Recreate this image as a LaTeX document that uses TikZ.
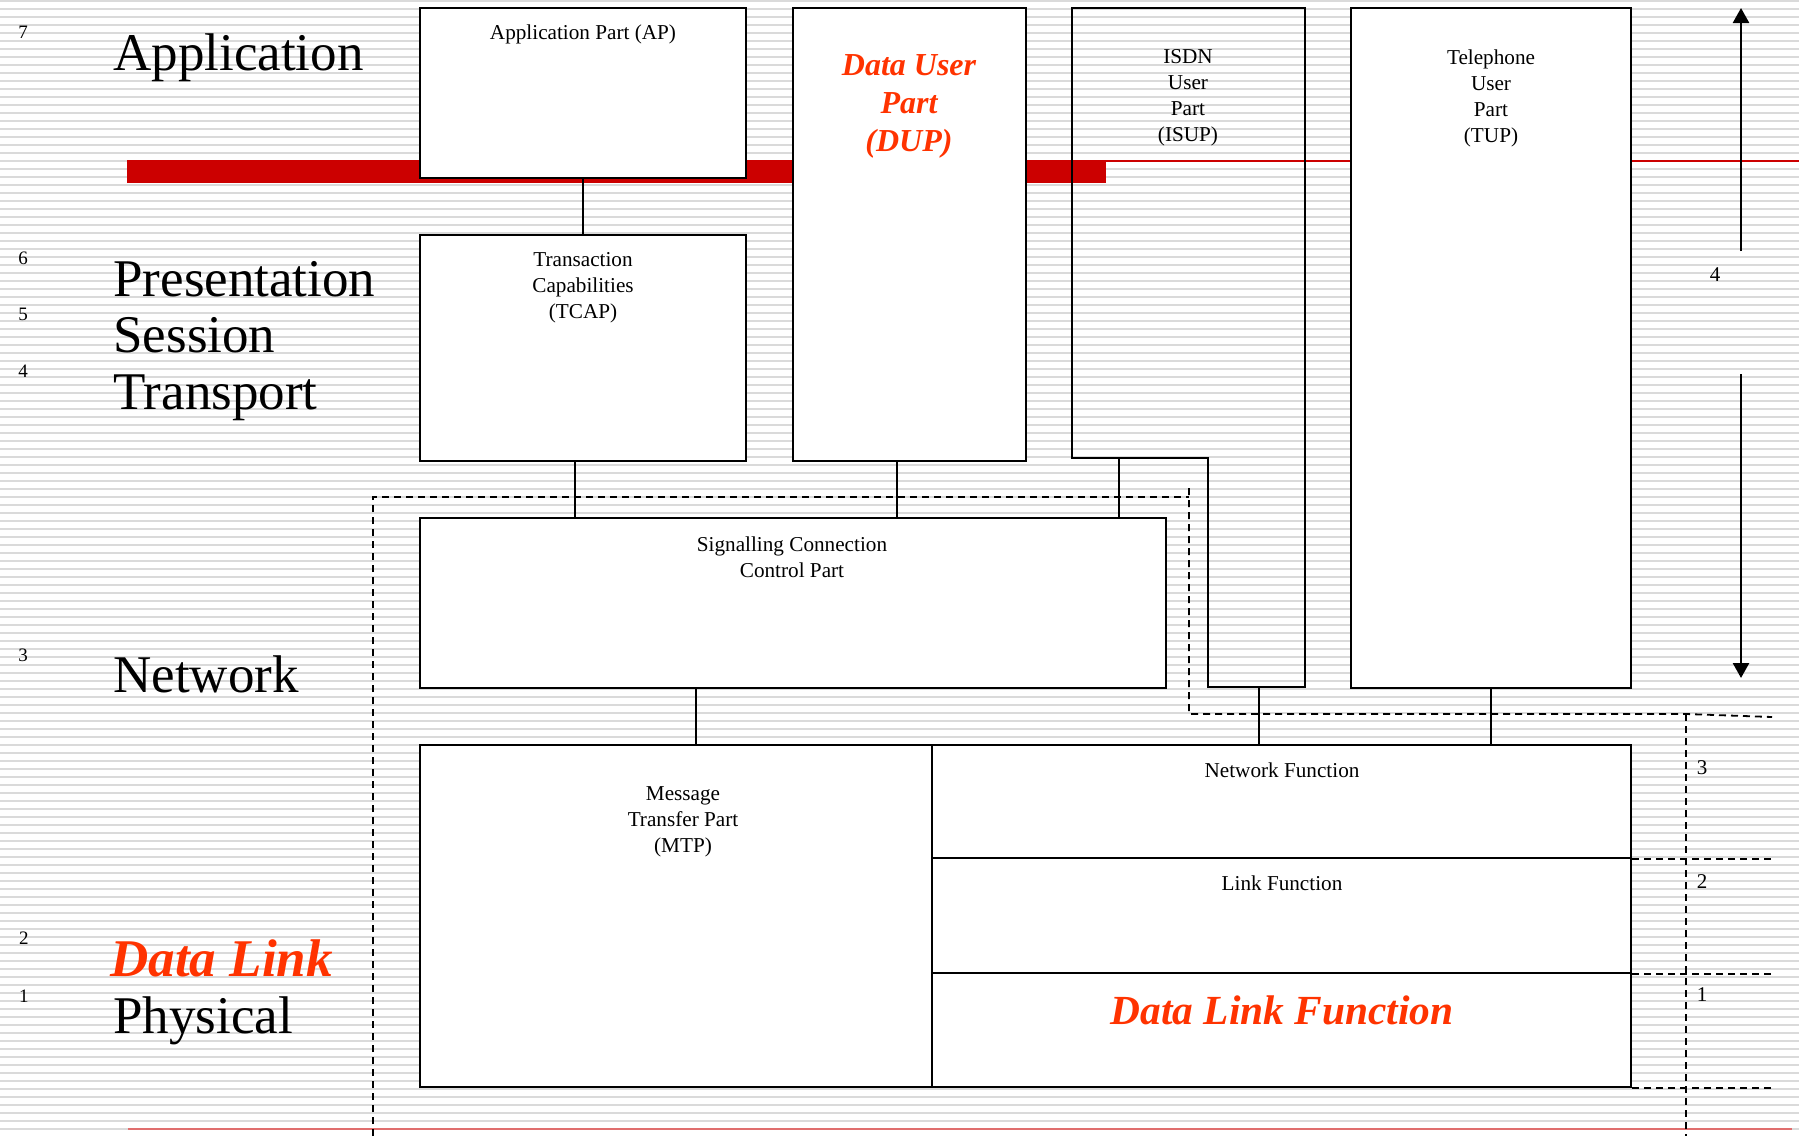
\documentclass[tikz,border=0pt]{standalone}
\usepackage{fontspec}
\setmainfont{Liberation Serif}
\usetikzlibrary{arrows.meta,fit,positioning}
\definecolor{barred}{RGB}{204,0,0}
\definecolor{textred}{RGB}{255,51,0}
\definecolor{linered}{RGB}{224,110,110}
\definecolor{stripegray}{RGB}{218,218,218}
\begin{document}
\begin{tikzpicture}[x=0.5pt,y=-0.5pt,
    box/.style={draw, fill=white, line width=1pt, inner sep=0pt},
    wire/.style={line width=0.8pt},
    fence/.style={line width=0.9pt, dash pattern=on 3.5pt off 2.5pt},
    small/.style={inner sep=0pt, align=center, font=\fontsize{10.6}{13}\selectfont},
    hot/.style={inner sep=0pt, align=center, text=textred},
    layer/.style={inner sep=0pt, anchor=base west, font=\fontsize{26.5}{28}\selectfont},
    num/.style={inner sep=0pt, font=\fontsize{9.5}{11}\selectfont},
    rnum/.style={inner sep=0pt, font=\fontsize{10.5}{12}\selectfont},
    span/.style={line width=1.3pt, -{Triangle[length=7.5pt,width=8pt]}}]
    % Page and striped background
    \useasboundingbox (0,0) rectangle (1799,1136);
    \fill[white] (0,0) rectangle (1799,1136);
    \foreach \k in {0,...,141}
        \draw[stripegray, line width=0.75pt] (0,{1+8*\k}) -- (1799,{1+8*\k});

    % Red rules
    \fill[barred] (127,160) rectangle (1106,183);
    \draw[barred, line width=1pt] (1106,161) -- (1799,161);
    \draw[linered, line width=1pt] (128,1129) -- (1792,1129);

    % OSI layer names and numbers
    \node[layer] (lapp) at (113,70) {Application};
    \node[layer] (lpres) at (113,296) {Presentation};
    \node[layer] (lsess) at (113,352) {Session};
    \node[layer] (ltrans) at (113,409) {Transport};
    \node[layer] (lnet) at (113,692) {Network};
    \node[layer, text=textred, font=\fontsize{26.5}{28}\selectfont\bfseries\itshape] (ldlink) at (110,976) {Data Link};
    \node[layer] (lphys) at (113,1033) {Physical};
    \node[num] (n7) at (23,32) {7};
    \node[num] (n6) at (23,258) {6};
    \node[num] (n5) at (23,314) {5};
    \node[num] (n4) at (23,371) {4};
    \node[num] (n3) at (23,655) {3};
    \node[num] (n2) at (24,938) {2};
    \node[num] (n1) at (24,996) {1};

    % SS7 parts
    \node[box, fit={(420,8) (746,178)}] (ap) {};
    \node[box, fit={(420,235) (746,461)}] (tcap) {};
    \node[box, fit={(793,8) (1026,461)}] (dup) {};
    \node[box, fit={(1351,8) (1631,688)}] (tup) {};
    \node[box, fit={(420,518) (1166,688)}] (sccp) {};
    \node[box, fit={(420,745) (1631,1087)}] (mtp) {};
    \node[box, fit={(932,745) (1631,858)}] (nf) {};
    \node[box, fit={(932,858) (1631,973)}] (lf) {};
    \node[box, fit={(932,973) (1631,1087)}] (dlf) {};
    % ISUP reaches down beside the SCCP
    \draw[line width=1pt] (1072,8) -- (1305,8) -- (1305,687) -- (1208,687)
        -- (1208,458) -- (1072,458) -- cycle;
    \coordinate (isuptop) at (1119,458);
    \coordinate (isupbot) at (1259,687);

    % Connections
    \draw[wire] (ap.south) -- (tcap.north);
    \draw[wire] ([xshift=-4pt]tcap.south) -- ([xshift=-4pt]tcap.south |- sccp.north);
    \draw[wire] ([xshift=-6.25pt]dup.south) -- ([xshift=-6.25pt]dup.south |- sccp.north);
    \draw[wire] (isuptop) -- (isuptop |- sccp.north);
    \draw[wire] ([xshift=-48.5pt]sccp.south) -- ([xshift=-48.5pt]sccp.south |- mtp.north);
    \draw[wire] (isupbot) -- (isupbot |- nf.north);
    \draw[wire] (tup.south) -- (tup.south |- nf.north);

    % Labels
    \node[small] (aptxt) at (583,34) {Application Part (AP)};
    \node[small] (tcaptxt) at (583,288) {Transaction\\Capabilities\\(TCAP)};
    \node[hot, font=\fontsize{16}{19}\selectfont\bfseries\itshape] (duptxt) at (909,106) {Data User\\Part\\(DUP)};
    \node[small] (isuptxt) at (1188,98) {ISDN\\User\\Part\\(ISUP)};
    \node[small] (tuptxt) at (1491,98) {Telephone\\User\\Part\\(TUP)};
    \node[small] (sccptxt) at (792,557) {Signalling Connection\\Control Part};
    \node[small] (mtptxt) at (683,822) {Message\\Transfer Part\\(MTP)};
    \node[small] (nftxt) at (1282,770) {Network Function};
    \node[small] (lftxt) at (1282,883) {Link Function};
    \node[hot, font=\fontsize{20.7}{24}\selectfont\bfseries\itshape] (dlftxt) at (1282,1010) {Data Link Function};

    % Dashed layer borders
    \draw[fence] (373,1136) -- (373,497) -- (1189,497);
    \draw[fence] (1189,488) -- (1189,714) -- (1686,714) -- (1772,717);
    \draw[fence] (1686,714) -- (1686,1136);
    \foreach \n in {nf,lf,dlf}
        \draw[fence] (\n.south east) -- ([xshift=70.5pt]\n.south east);
    \node[rnum] (r3) at (1702,768) {3};
    \node[rnum] (r2) at (1702,882) {2};
    \node[rnum] (r1) at (1702,995) {1};

    % Span of layer 4
    \node[rnum] (r4) at (1715,275) {4};
    \coordinate (spantop) at (1741,8);
    \coordinate (spanbot) at (1741,678);
    \draw[span] (1741,251) -- (spantop);
    \draw[span] (1741,374) -- (spanbot);
\end{tikzpicture}
\end{document}
